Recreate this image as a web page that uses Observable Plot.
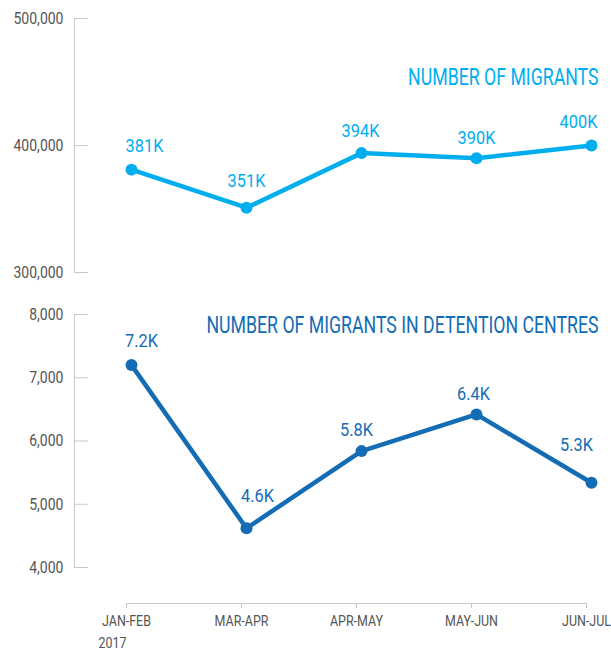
<!DOCTYPE html>
<html><head><meta charset="utf-8">
<script src="https://cdn.jsdelivr.net/npm/d3@7"></script>
<script src="https://cdn.jsdelivr.net/npm/@observablehq/plot@0.6"></script>
<style>
body{margin:0;background:#fff;}
#chart{width:611px;}
</style></head><body><div id="chart"></div>
<script>
// ---- data ----
const periods = ["JAN-FEB", "MAR-APR", "APR-MAY", "MAY-JUN", "JUN-JUL"];
const yearLabel = "2017";
const migrants = [381000, 351000, 394000, 390000, 400000];
const migrantLabels = ["381K", "351K", "394K", "390K", "400K"];
const detained = [7200, 4620, 5840, 6420, 5340];
const detainedLabels = ["7.2K", "4.6K", "5.8K", "6.4K", "5.3K"];
const migrantTicks = [300000, 400000, 500000];
const detainedTicks = [4000, 5000, 6000, 7000, 8000];
const titleTop = "NUMBER OF MIGRANTS";
const titleBottom = "NUMBER OF MIGRANTS IN DETENTION CENTRES";

// ---- style ----
const FONT = "Roboto, 'Noto Sans', sans-serif";
const AXIS_GRAY = "#c8c8c8";
const TEXT_GRAY = "#555";
const tickRight = {draw(context, l) { context.moveTo(0, 0); context.lineTo(l, 0); }};
// label nudges (px) relative to the dots
const topNudgeX = [13, 0, -1, 0, -13], topNudgeY = [24, 27, 22, 20, 24];
const botNudgeX = [10, 11, -5, -3, -15], botNudgeY = [24, 32, 21, 21, 38];

// horizontally condense text glyphs (reference uses a condensed face)
function condense(svg, strings, k) {
  const set = new Set(strings);
  svg.querySelectorAll("text").forEach(t => {
    if (!set.has(t.textContent)) return;
    const tr = t.getAttribute("transform");
    if (tr) {
      t.setAttribute("transform", tr + ` scale(${k},1)`);
    } else {
      const x = +(t.getAttribute("x") || 0), y = +(t.getAttribute("y") || 0);
      t.removeAttribute("x"); t.removeAttribute("y");
      t.setAttribute("transform", `translate(${x},${y}) scale(${k},1)`);
    }
  });
  return svg;
}

function panel({values, labels, ticks, title, color, height, mt, mb, domain, nx, ny, titleDy}) {
  const data = periods.map((p, i) => ({period: p, value: values[i], label: labels[i]}));
  const fmt = d3.format(",");
  const svg = Plot.plot({
    width: 611, height, marginTop: mt, marginBottom: mb, marginLeft: 74, marginRight: 13,
    style: {fontFamily: FONT, background: "white", overflow: "visible"},
    x: {type: "point", domain: periods, range: [130, 591], padding: 0, axis: null},
    y: {domain},
    marks: [
      Plot.frame({anchor: "left", stroke: AXIS_GRAY}),
      Plot.vector(ticks, {y: d => d, frameAnchor: "left", length: 13, rotate: 0, anchor: "start",
        shape: tickRight, stroke: AXIS_GRAY, strokeWidth: 1}),
      Plot.axisY(ticks, {tickSize: 0, tickPadding: 11, tickFormat: fmt, fontSize: 16.5,
        fill: TEXT_GRAY, label: null}),
      Plot.line(data, {x: "period", y: "value", stroke: color, strokeWidth: 4.5}),
      Plot.dot(data, {x: "period", y: "value", r: 6, fill: color}),
      ...data.map((d, i) => Plot.text([d], {x: "period", y: "value", text: "label",
        dx: nx[i], dy: -ny[i], fill: color, fontSize: 19})),
      Plot.text([title], {frameAnchor: "top-right", lineAnchor: "middle", textAnchor: "end",
        dy: titleDy, fill: color, fontSize: 23})
    ]
  });
  condense(svg, [title], 0.77);
  condense(svg, labels, 0.86);
  condense(svg, ticks.map(fmt), 0.85);
  return svg;
}

const topPanel = panel({values: migrants, labels: migrantLabels, ticks: migrantTicks, title: titleTop,
  color: "#00aeef", height: 290, mt: 18, mb: 18, domain: [300000, 500000],
  nx: topNudgeX, ny: topNudgeY, titleDy: 59});

const bottomPanel = panel({values: detained, labels: detainedLabels, ticks: detainedTicks, title: titleBottom,
  color: "#136cb4", height: 300, mt: 24, mb: 23, domain: [4000, 8000],
  nx: botNudgeX, ny: botNudgeY, titleDy: 11});

const axisPanel = Plot.plot({
  width: 611, height: 60, marginTop: 0, marginBottom: 47, marginLeft: 126, marginRight: 25,
  style: {fontFamily: FONT, background: "white", overflow: "visible"},
  x: {type: "point", domain: periods, range: [126, 586], padding: 0},
  marks: [
    Plot.frame({anchor: "bottom", stroke: AXIS_GRAY}),
    Plot.axisX({tickSize: 5, tickPadding: 8, fontSize: 14, fill: TEXT_GRAY, stroke: AXIS_GRAY, label: null}),
    Plot.text([yearLabel], {x: () => periods[0], frameAnchor: "bottom", lineAnchor: "middle",
      textAnchor: "start", dx: -28, dy: 40, fontSize: 14, fill: TEXT_GRAY})
  ]
});
condense(axisPanel, [...periods, yearLabel], 0.89);

document.getElementById("chart").append(topPanel, bottomPanel, axisPanel);
</script></body></html>
